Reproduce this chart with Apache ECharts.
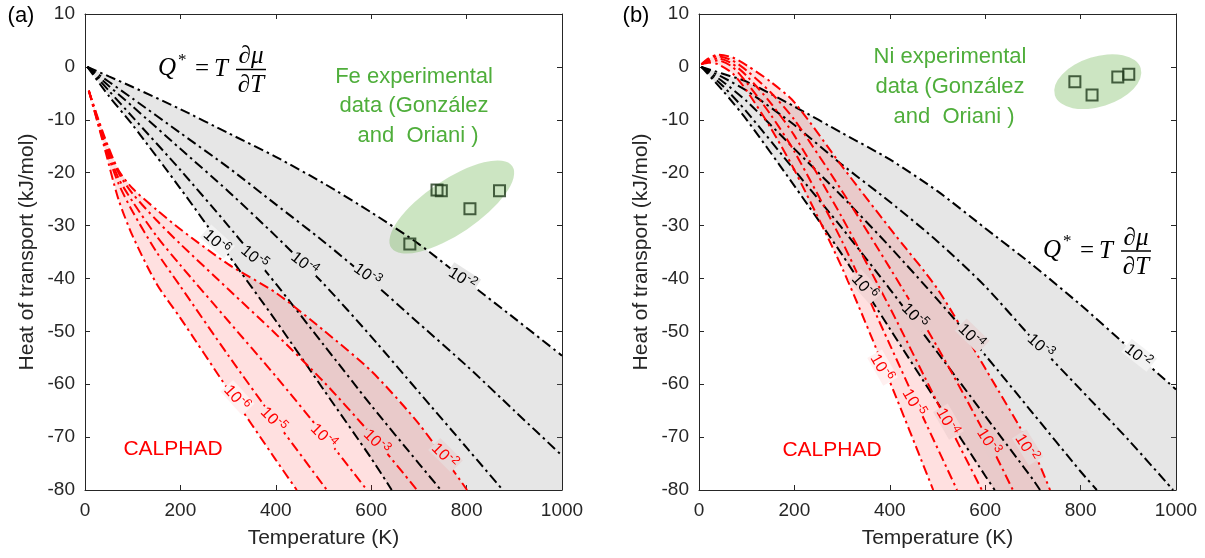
<!DOCTYPE html>
<html>
<head>
<meta charset="utf-8">
<title>Heat of transport</title>
<script src="https://cdn.jsdelivr.net/npm/echarts@6/dist/echarts.min.js"></script>
<style>
  html, body { margin: 0; padding: 0; background: #fff; }
  #chart { width: 1205px; height: 558px; }
</style>
</head>
<body>
<div id="chart"></div>
<script>
// axis ranges (both panels)
const X_MIN = 0, X_MAX = 1000, Y_MIN = -80, Y_MAX = 10;
const xTicks = 200, yTicks = 10;

// (a) Fe, model curves Q* = T dmu/dT, points are [T (K), Q* (kJ/mol)]
const feBlack2 = [[5,0],[50,-1.8],[100,-3.8],[200,-8],[300,-12.5],[400,-17],[500,-22],[600,-27.5],[700,-33.5],[800,-40.5],[900,-47.5],[1000,-54.6]];
const feBlack3 = [[5,0],[50,-2.8],[100,-6],[200,-12.5],[300,-19],[400,-26],[500,-33],[600,-40.5],[700,-48.5],[800,-56.5],[900,-65],[1000,-73.5]];
const feBlack4 = [[5,0],[50,-3.6],[100,-7.5],[200,-15.5],[300,-23.5],[400,-32],[500,-41],[600,-51],[700,-61.5],[800,-72],[876,-80]];
const feBlack5 = [[5,0],[50,-4.5],[100,-9.5],[200,-19.5],[300,-30],[400,-41],[500,-52.5],[600,-64],[700,-75],[746,-80]];
const feBlack6 = [[5,0],[50,-5.5],[100,-11],[200,-23],[300,-35.5],[400,-48],[500,-61],[600,-74],[643,-80]];
// (a) Fe, CALPHAD curves
const feRed2 = [[8,-4.5],[40,-13],[70,-19.5],[100,-23],[150,-27],[200,-30.7],[300,-37.3],[400,-42.7],[500,-49.8],[600,-57.5],[700,-67.5],[801,-80]];
const feRed3 = [[8,-4.5],[40,-13.5],[70,-20],[100,-24],[150,-29],[200,-33.5],[300,-42],[400,-50.5],[500,-59.5],[600,-69.5],[696,-80]];
const feRed4 = [[8,-4.5],[40,-14],[70,-21],[100,-25.5],[150,-32],[200,-37.5],[300,-48],[400,-58.5],[500,-69.5],[591,-80]];
const feRed5 = [[8,-4.5],[40,-14.5],[70,-22],[100,-27.4],[150,-35],[200,-41.5],[300,-54.5],[400,-67],[507,-80]];
const feRed6 = [[8,-4.5],[40,-15],[70,-25],[100,-32],[150,-41],[200,-47.5],[300,-61],[400,-74.3],[444,-80]];
// (a) experimental points (Gonzalez and Oriani)
const feExp = [[681,-33.5],[738,-23.3],[747,-23.4],[807,-26.8],[869,-23.4]];
const feExpCenter = [769,-26.5];

// (b) Ni, model curves
const niBlack2 = [[5,0],[50,-1.3],[100,-2.8],[200,-7.5],[300,-12.5],[400,-17.5],[500,-23.5],[600,-30.5],[700,-37.5],[800,-45],[900,-53],[1000,-61]];
const niBlack3 = [[5,0],[50,-2],[100,-4.5],[200,-11],[300,-18.5],[400,-25.5],[500,-33],[600,-41.5],[700,-51.5],[800,-61],[900,-70.5],[994,-80]];
const niBlack4 = [[5,0],[50,-2.8],[100,-6.5],[200,-15.5],[300,-24.5],[400,-34],[500,-44],[600,-54.5],[700,-65.5],[800,-76.5],[834,-80]];
const niBlack5 = [[5,0],[50,-3.6],[100,-8.5],[200,-19.5],[300,-30.5],[400,-42],[500,-54],[600,-66],[700,-78],[715,-80]];
const niBlack6 = [[5,0],[50,-4.5],[100,-10],[200,-22.5],[300,-35.5],[400,-49.5],[500,-63.5],[600,-77.3],[620,-80]];
// (b) Ni, CALPHAD curves
const niRed2 = [[5,0.5],[20,1.6],[40,2.3],[70,1.8],[100,0.3],[150,-2.8],[200,-6.7],[300,-18.8],[400,-30.5],[500,-42],[600,-57],[700,-72.5],[736,-80]];
const niRed3 = [[5,0.5],[20,1.4],[40,2],[70,1.2],[100,-0.7],[150,-4.8],[200,-10],[300,-23.5],[400,-38],[500,-53],[600,-69.5],[658,-80]];
const niRed4 = [[5,0.5],[20,1.2],[40,1.6],[70,0.6],[100,-1.7],[150,-6.8],[200,-13],[300,-28.5],[400,-45.5],[500,-63.5],[593,-80]];
const niRed5 = [[5,0.5],[20,1],[40,1.2],[70,0],[100,-3],[150,-9],[200,-16],[300,-33],[400,-52.5],[453,-63],[541,-80]];
const niRed6 = [[5,0.5],[20,0.8],[40,0.5],[70,-1.2],[100,-4.5],[150,-11.5],[200,-19.5],[300,-38],[400,-59.5],[491,-80]];
// (b) experimental points
const niExp = [[788,-2.8],[824,-5.3],[878,-1.9],[901,-1.4]];
const niExpCenter = [836,-2.8];

// curve labels: [T, Q, exponent of 10]
const feBlackLabels = [[277,-33.1,-6],[356,-36,-5],[461,-37.2,-4],[593,-39.3,-3],[792,-40,-2]];
const feRedLabels = [[319,-62.6,-6],[396,-66.7,-5],[501,-69.8,-4],[612,-70.9,-3],[755,-73.5,-2]];
const niBlackLabels = [[348,-41.6,-6],[453,-47.1,-5],[572,-50.9,-4],[717,-52.8,-3],[922,-54.6,-2]];
const niRedLabels = [[384,-56.9,-6],[451,-63.5,-5],[522,-67.1,-4],[608,-70.9,-3],[688,-72,-2]];

// ---- styles ----
const AXIS_COLOR = '#262626';
const FONT = '"Liberation Sans", Arial, sans-serif';
const DASH_DOT = [10, 4, 2.5, 4];
const GRAY_FILL = 'rgba(128,128,128,0.2)';
const PINK_FILL = 'rgba(255,0,0,0.12)';
const GREEN_FILL = 'rgba(110,180,80,0.35)';
const GREEN_TEXT = '#4fae3b';
const SQUARE_COLOR = '#1f3a1c';
const BG_G = 'rgb(230,230,230)', BG_P = 'rgb(255,224,224)', BG_D = 'rgb(232,202,202)';
const BG_WG = 'rgb(242,242,242)', BG_WP = 'rgb(255,240,240)', BG_PD = 'rgb(243,213,213)', BG_DG = 'rgb(231,216,216)';

const chart = echarts.init(document.getElementById('chart'));

function xAxes(g) {
  const base = {
    gridIndex: g, type: 'value', min: X_MIN, max: X_MAX, interval: xTicks,
    splitLine: { show: false },
    axisLine: { onZero: false, lineStyle: { color: AXIS_COLOR, width: 1 } },
    axisTick: { inside: true, length: 5, lineStyle: { color: AXIS_COLOR } }
  };
  return [
    Object.assign({}, base, {
      position: 'bottom',
      axisLabel: { fontSize: 19, color: AXIS_COLOR, margin: 11, fontFamily: FONT, formatter: v => String(v) },
      name: 'Temperature (K)', nameLocation: 'middle', nameGap: 38,
      nameTextStyle: { fontSize: 21, color: AXIS_COLOR, fontFamily: FONT }
    }),
    Object.assign({}, base, { position: 'top', axisLabel: { show: false } })
  ];
}

function yAxes(g) {
  const base = {
    gridIndex: g, type: 'value', min: Y_MIN, max: Y_MAX, interval: yTicks,
    splitLine: { show: false },
    axisLine: { onZero: false, lineStyle: { color: AXIS_COLOR, width: 1 } },
    axisTick: { inside: true, length: 5, lineStyle: { color: AXIS_COLOR } }
  };
  return [
    Object.assign({}, base, {
      position: 'left',
      axisLabel: { fontSize: 19, color: AXIS_COLOR, margin: 10, fontFamily: FONT, formatter: v => String(v) },
      name: 'Heat of transport (kJ/mol)', nameLocation: 'middle', nameGap: 47,
      nameTextStyle: { fontSize: 21, color: AXIS_COLOR, fontFamily: FONT }
    }),
    Object.assign({}, base, { position: 'right', axisLabel: { show: false } })
  ];
}

function curve(g, data, color) {
  return {
    type: 'line', xAxisIndex: 2 * g, yAxisIndex: 2 * g, data: data,
    showSymbol: false, smooth: 0.25, silent: true, z: 3, clip: true,
    lineStyle: { color: color, width: 2, type: DASH_DOT, cap: 'butt' }
  };
}

// filled band between an upper and a lower curve, closed along the axis box
function band(g, upper, lower, fill, z) {
  const ring = upper.slice();
  const last = upper[upper.length - 1];
  if (last[1] > Y_MIN) ring.push([X_MAX, Y_MIN]);
  const poly = ring.concat(lower.slice().reverse());
  return {
    type: 'custom', coordinateSystem: 'cartesian2d', xAxisIndex: 2 * g, yAxisIndex: 2 * g,
    data: [[500, -40]], silent: true, z: z, clip: true,
    renderItem: function (params, api) {
      return { type: 'polygon', shape: { points: poly.map(p => api.coord(p)) }, style: { fill: fill } };
    }
  };
}

function ellipse(g, center, rx, ry, deg) {
  return {
    type: 'custom', coordinateSystem: 'cartesian2d', xAxisIndex: 2 * g, yAxisIndex: 2 * g,
    data: [center], silent: true, z: 2,
    renderItem: function (params, api) {
      const p = api.coord([api.value(0), api.value(1)]);
      return {
        type: 'circle', x: p[0], y: p[1], scaleX: rx, scaleY: ry, rotation: deg * Math.PI / 180,
        shape: { cx: 0, cy: 0, r: 1 }, style: { fill: GREEN_FILL }
      };
    }
  };
}

function squares(g, data) {
  return {
    type: 'scatter', xAxisIndex: 2 * g, yAxisIndex: 2 * g, data: data, silent: true, z: 6,
    symbol: 'rect', symbolSize: 11,
    itemStyle: { color: 'rgba(0,0,0,0)', borderColor: SQUARE_COLOR, borderWidth: 2 }
  };
}

// "10" with a raised exponent, turned along the curve
function labels(g, list, color, angles, bgs) {
  return {
    type: 'custom', coordinateSystem: 'cartesian2d', xAxisIndex: 2 * g, yAxisIndex: 2 * g,
    data: list, silent: true, z: 5,
    renderItem: function (params, api) {
      const i = params.dataIndex;
      const p = api.coord([api.value(0), api.value(1)]);
      return {
        type: 'group', x: p[0], y: p[1], rotation: -angles[i] * Math.PI / 180,
        children: [
          { type: 'rect', shape: { x: -16, y: -9, width: 32, height: 17 }, style: { fill: bgs[i] } },
          { type: 'text', x: 3, y: 1, style: { text: '10', fill: color, font: '16px ' + FONT,
              align: 'right', verticalAlign: 'middle', textAlign: 'right', textVerticalAlign: 'middle' } },
          { type: 'text', x: 3.5, y: -4, style: { text: String(list[i][2]), fill: color, font: '12px ' + FONT,
              align: 'left', verticalAlign: 'middle', textAlign: 'left', textVerticalAlign: 'middle' } }
        ]
      };
    }
  };
}

function txt(text, x, y, font, fill, align) {
  const a = align || 'center';
  return {
    type: 'text', x: x, y: y, silent: true, z: 10,
    style: { text: text, font: font, fill: fill, align: a, verticalAlign: 'middle', textAlign: a, textVerticalAlign: 'middle' }
  };
}

// Q* = T dmu/dT ; x0 = left of Q, y0 = fraction bar
function formula(x0, y0) {
  const it = 'italic 25px "Liberation Serif", serif';
  return [
    txt('Q', x0, y0 - 1, it, '#000', 'left'),
    txt('*', x0 + 20, y0 - 9, '17px "Liberation Serif", serif', '#000', 'left'),
    txt('=', x0 + 44, y0, '25px "Liberation Serif", serif', '#000'),
    txt('T', x0 + 56, y0, it, '#000', 'left'),
    { type: 'line', silent: true, z: 10, shape: { x1: x0 + 78, y1: y0, x2: x0 + 108, y2: y0 }, style: { stroke: '#000', lineWidth: 1.5 } },
    txt('\u2202\u03BC', x0 + 93, y0 - 13, it, '#000'),
    txt('\u2202T', x0 + 93, y0 + 16, it, '#000')
  ];
}

const gText = '22px ' + FONT;
const graphics = [
  txt('(a)', 21, 16, gText, '#000'),
  txt('(b)', 636, 16, gText, '#000'),
  txt('Fe experimental', 414, 77, gText, GREEN_TEXT),
  txt('data (Gonz\u00E1lez', 414, 106, gText, GREEN_TEXT),
  txt('and  Oriani )', 418, 136, gText, GREEN_TEXT),
  txt('Ni experimental', 950, 57, gText, GREEN_TEXT),
  txt('data (Gonz\u00E1lez', 950, 87, gText, GREEN_TEXT),
  txt('and  Oriani )', 954, 117, gText, GREEN_TEXT),
  txt('CALPHAD', 173, 449, '21px ' + FONT, '#ff0000'),
  txt('CALPHAD', 832, 450, '21px ' + FONT, '#ff0000')
].concat(formula(158, 69.5), formula(1043, 251));

const series = [
  band(0, feBlack2, feBlack6, GRAY_FILL, 1),
  band(0, feRed2, feRed6, PINK_FILL, 1.5),
  ellipse(0, feExpCenter, 73, 27, 34),
  curve(0, feBlack2, '#000'), curve(0, feBlack3, '#000'), curve(0, feBlack4, '#000'),
  curve(0, feBlack5, '#000'), curve(0, feBlack6, '#000'),
  curve(0, feRed2, '#ff0000'), curve(0, feRed3, '#ff0000'), curve(0, feRed4, '#ff0000'),
  curve(0, feRed5, '#ff0000'), curve(0, feRed6, '#ff0000'),
  labels(0, feBlackLabels, '#000', [42, 40, 38, 36, 33], [BG_WG, BG_G, BG_G, BG_G, BG_G]),
  labels(0, feRedLabels, '#ff0000', [48, 46, 45, 45, 45], [BG_WP, BG_P, BG_P, BG_D, BG_DG]),
  squares(0, feExp),

  band(1, niBlack2, niBlack6, GRAY_FILL, 1),
  band(1, niRed2, niRed6, PINK_FILL, 1.5),
  ellipse(1, niExpCenter, 45, 25, 17.5),
  curve(1, niBlack2, '#000'), curve(1, niBlack3, '#000'), curve(1, niBlack4, '#000'),
  curve(1, niBlack5, '#000'), curve(1, niBlack6, '#000'),
  curve(1, niRed2, '#ff0000'), curve(1, niRed3, '#ff0000'), curve(1, niRed4, '#ff0000'),
  curve(1, niRed5, '#ff0000'), curve(1, niRed6, '#ff0000'),
  labels(1, niBlackLabels, '#000', [48, 46, 44, 42, 38], [BG_PD, BG_D, BG_DG, BG_G, BG_WG]),
  labels(1, niRedLabels, '#ff0000', [60, 60, 60, 58, 58], [BG_WP, BG_P, BG_PD, BG_D, BG_DG]),
  squares(1, niExp)
];

chart.setOption({
  animation: false,
  backgroundColor: '#fff',
  grid: [
    { left: 85, top: 14, width: 477, height: 476 },
    { left: 699, top: 14, width: 477, height: 476 }
  ],
  xAxis: xAxes(0).concat(xAxes(1)),
  yAxis: yAxes(0).concat(yAxes(1)),
  graphic: graphics,
  series: series
});
</script>
</body>
</html>
